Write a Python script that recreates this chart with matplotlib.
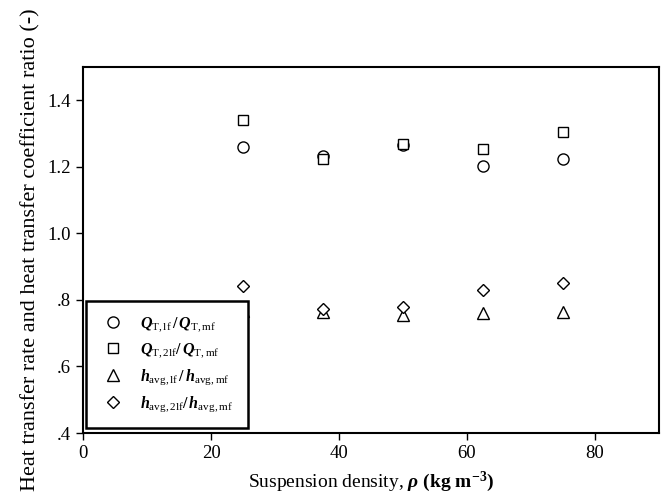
import matplotlib
matplotlib.use('Agg')
import matplotlib.pyplot as plt
from matplotlib.ticker import FuncFormatter

plt.rcParams['font.family'] = 'Liberation Serif'
plt.rcParams['mathtext.fontset'] = 'custom'
plt.rcParams['mathtext.rm'] = 'Liberation Serif'
plt.rcParams['mathtext.it'] = 'Liberation Serif:bold:italic'
plt.rcParams['mathtext.bf'] = 'Liberation Serif:bold'

# suspension density (kg m-3)
density = [25, 37.5, 50, 62.5, 75]

# ratios
q_lf = [1.259, 1.232, 1.265, 1.202, 1.224]
q_2lf = [1.341, 1.222, 1.268, 1.254, 1.305]
h_lf = [0.768, 0.765, 0.755, 0.761, 0.765]
h_2lf = [0.841, 0.772, 0.780, 0.831, 0.851]

labels = [
    r'$Q_{\mathrm{T,lf}}\,\mathbf{/}\,Q_{\mathrm{T,mf}}$',
    r'$Q_{\mathrm{T,2lf}}\mathbf{/}\,Q_{\mathrm{T,mf}}$',
    r'$h_{\mathrm{avg,lf}}\,\mathbf{/}\,h_{\mathrm{avg,mf}}$',
    r'$h_{\mathrm{avg,2lf}}\mathbf{/}\,h_{\mathrm{avg,mf}}$',
]

fig = plt.figure(figsize=(6.61, 4.96), dpi=100)
ax = fig.add_axes([0.1256, 0.127, 0.8714, 0.738])

series = [q_lf, q_2lf, h_lf, h_2lf]
markers = ['o', 's', '^', 'D']
sizes = [8, 7.5, 8, 6.5]
for vals, m, ms, lab in zip(series, markers, sizes, labels):
    ax.plot(density, vals, linestyle='none', marker=m, markersize=ms,
            markerfacecolor='white', markeredgecolor='black',
            markeredgewidth=1.0, label=lab)

ax.set_xlim(0, 90)
ax.set_ylim(0.4, 1.5)
ax.set_xticks([0, 20, 40, 60, 80])
ax.set_yticks([0.4, 0.6, 0.8, 1.0, 1.2, 1.4])


def yfmt(v, pos):
    s = '%.1f' % v
    return s[1:] if s.startswith('0') else s


ax.yaxis.set_major_formatter(FuncFormatter(yfmt))
ax.tick_params(direction='out', length=5, width=1, labelsize=13.5,
               top=False, right=False)
for sp in ax.spines.values():
    sp.set_linewidth(1.5)

ax.set_xlabel(r'Suspension density, $\rho$ $\mathbf{(kg\ m^{-3})}$',
              fontsize=14, labelpad=6)
ax.set_ylabel('Heat transfer rate and heat transfer coefficient ratio (-)',
              fontsize=16, labelpad=5)

leg = ax.legend(loc='lower left', bbox_to_anchor=(0.005, 0.014),
                fontsize=11.5, frameon=True, fancybox=False,
                edgecolor='black', framealpha=1, borderpad=0.9,
                labelspacing=0.45, handletextpad=0.9, handlelength=1.6,
                borderaxespad=0)
leg.get_frame().set_linewidth(1.8)

fig.savefig('out.png', dpi=100)
print("Image generation complete")
